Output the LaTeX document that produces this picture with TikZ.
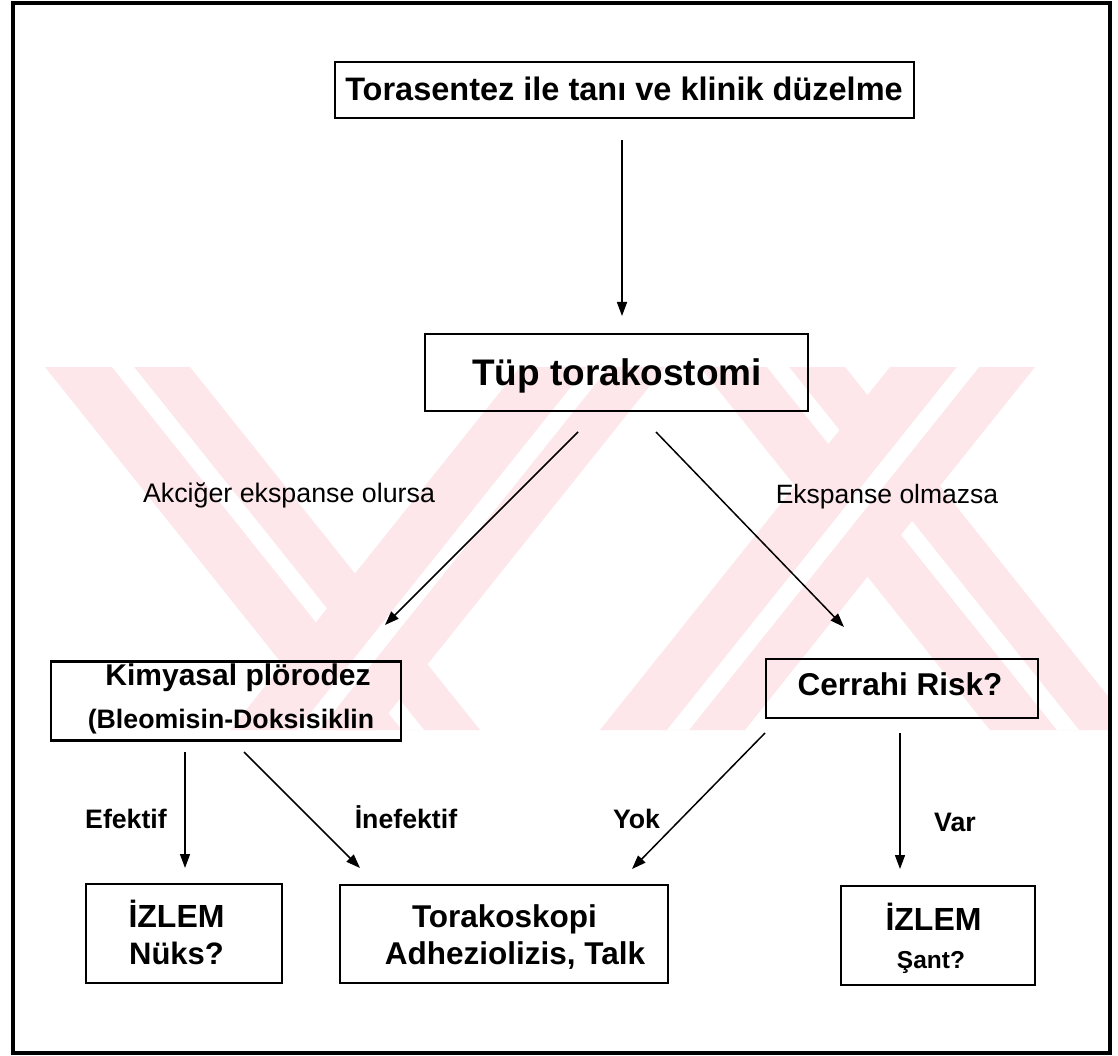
\documentclass[tikz,border=0pt]{standalone}
\usepackage{fontspec}
\setmainfont{Liberation Sans}
\usetikzlibrary{arrows.meta}
\definecolor{wm}{RGB}{253,231,235}
\begin{document}
\begin{tikzpicture}[x=1pt,y=-1pt,
  box/.style={draw=black,line width=2.2pt,inner sep=0pt},
  txt/.style={anchor=base,inner sep=0pt,font=\bfseries\fontsize{#1}{#1}\selectfont},
  lbl/.style={anchor=base,inner sep=0pt,font=\fontsize{#1}{#1}\selectfont},
  arr/.style={line width=1.5pt,-{Triangle[length=14pt,width=10pt]}},
  wmark/.style={fill=wm,draw=none},
  wgap/.style={fill=white,draw=none}]
\useasboundingbox (0,0) rectangle (1118,1056);
\fill[white] (0,0) rectangle (1118,1056);
% watermark
\begin{scope}
\clip (15,367) rectangle (1108,730);
\fill[wmark] (45,367) -- (190,367) -- (480,730) -- (335,730) -- cycle;
\fill[wgap] (112,367) -- (134,367) -- (424,730) -- (402,730) -- cycle;
\fill[wmark] (230,730) -- (375,730) -- (665,367) -- (520,367) -- cycle;
\fill[wgap] (297,730) -- (319,730) -- (609,367) -- (587,367) -- cycle;
\fill[wmark] (700,367) -- (845,367) -- (1135,730) -- (990,730) -- cycle;
\fill[wgap] (767,367) -- (789,367) -- (1079,730) -- (1057,730) -- cycle;
\fill[wmark] (600,730) -- (745,730) -- (1035,367) -- (890,367) -- cycle;
\fill[wgap] (667,730) -- (689,730) -- (979,367) -- (957,367) -- cycle;
\end{scope}
% frame
\draw[line width=4pt] (13,3) rectangle (1110,1053);
% boxes
\node[box,minimum width=579pt,minimum height=56pt] (title) at (624.5,90) {};
\node[box,minimum width=383pt,minimum height=77pt] (tup) at (616.5,372.5) {};
\node[box,minimum width=350pt,minimum height=79pt] (kim) at (226,701) {};
\node[box,minimum width=272pt,minimum height=59pt] (cer) at (902,688.5) {};
\node[box,minimum width=196pt,minimum height=99pt] (izl) at (184,933.5) {};
\node[box,minimum width=328pt,minimum height=98pt] (tor) at (504,934) {};
\node[box,minimum width=194pt,minimum height=99pt] (izr) at (938,935.5) {};
% texts
\node[txt=32.5] (titleT) at (624,101) {Torasentez ile tanı ve klinik düzelme};
\node[txt=37] (tupT) at (617,385) {Tüp torakostomi};
\node[lbl=26.8] (akc) at (289,502) {Akciğer ekspanse olursa};
\node[lbl=26.5] (eks) at (887,503) {Ekspanse olmazsa};
\node[txt=30] (kim1) at (238,685) {Kimyasal plörodez};
\node[txt=26.7] (kim2) at (231,728) {(Bleomisin-Doksisiklin};
\node[txt=31.5] (cerT) at (900,695) {Cerrahi Risk?};
\node[txt=26.7] (efe) at (126,828) {Efektif};
\node[txt=26.7] (inef) at (406,828) {İnefektif};
\node[txt=26.7] (yok) at (636.5,828) {Yok};
\node[txt=26.7] (var) at (955,831) {Var};
\node[txt=32] (izl1) at (176.5,927) {İZLEM};
\node[txt=31] (izl2) at (176.5,964) {Nüks?};
\node[txt=31.5] (tor1) at (504.5,927) {Torakoskopi};
\node[txt=31.5] (tor2) at (515,964) {Adheziolizis, Talk};
\node[txt=32] (izr1) at (933.5,930) {İZLEM};
\node[txt=24.5] (izr2) at (931,968) {Şant?};
% arrow end points
\coordinate (a1s) at (622,140); \coordinate (a1e) at (622,316);
\coordinate (a2s) at (578,432); \coordinate (a2e) at (385,625);
\coordinate (a3s) at (656,432); \coordinate (a3e) at (844,627);
\coordinate (a4s) at (185,752); \coordinate (a4e) at (185,868);
\coordinate (a5s) at (244,752); \coordinate (a5e) at (360,868);
\coordinate (a6s) at (765,733); \coordinate (a6e) at (632,869);
\coordinate (a7s) at (900,733); \coordinate (a7e) at (900,869);
\draw[arr] (a1s) -- (a1e);
\draw[arr] (a2s) -- (a2e);
\draw[arr] (a3s) -- (a3e);
\draw[arr] (a4s) -- (a4e);
\draw[arr] (a5s) -- (a5e);
\draw[arr] (a6s) -- (a6e);
\draw[arr] (a7s) -- (a7e);
\end{tikzpicture}
\end{document}
